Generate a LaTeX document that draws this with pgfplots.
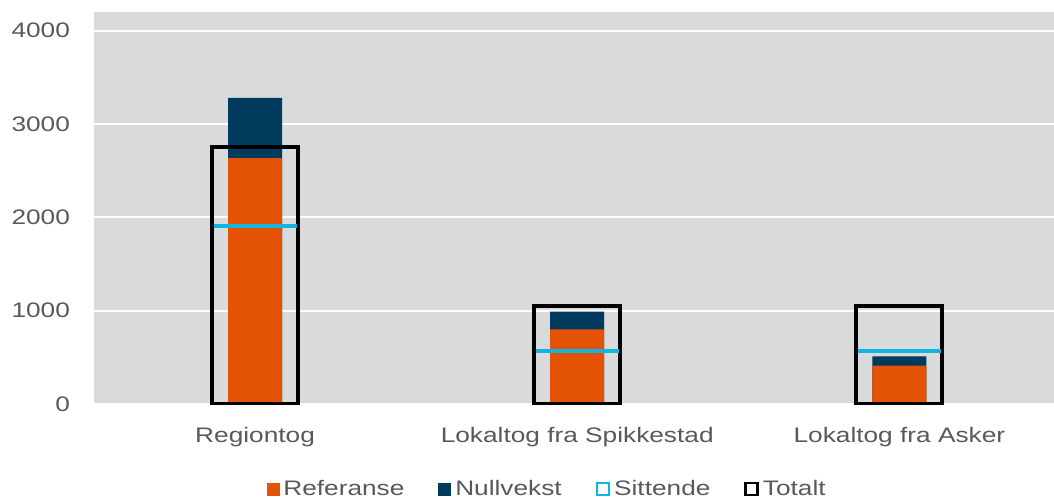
\documentclass[border=0pt]{standalone}
\usepackage{pgfplots}
\pgfplotsset{compat=1.18}
\usepackage{fontspec}
\setmainfont{Liberation Sans}[FakeStretch=1.25]
\definecolor{cOrange}{HTML}{E35205}
\definecolor{cNavy}{HTML}{003A5C}
\definecolor{cCyan}{HTML}{12B5DF}
\definecolor{cBg}{HTML}{D9DADC}
\definecolor{cText}{HTML}{595959}
\begin{document}
\begin{tikzpicture}
\useasboundingbox (-47pt,-47.5pt) rectangle (480pt,202pt);
\begin{axis}[
  at={(0,0)}, anchor=south west,
  scale only axis, width=480pt, height=196pt,
  xmin=-0.5, xmax=2.48, ymin=0, ymax=4200,
  axis background/.style={fill=cBg},
  axis line style={draw=none},
  xtick={0,1,2},
  xticklabels={Regiontog, Lokaltog fra Spikkestad, Lokaltog fra Asker},
  ytick={0,1000,2000,3000,4000},
  ymajorgrids, grid style={white, line width=1pt},
  major tick length=0pt,
  tick label style={font=\fontsize{10.5}{12}\selectfont, text=cText},
  /pgf/number format/assume math mode=true,
  /pgf/number format/1000 sep={},
  yticklabel style={xshift=-8.5pt},
  xticklabel style={yshift=-8pt},
  legend style={at={(0.473,-0.217)}, anchor=center, draw=none, fill=none,
    legend columns=4, font=\fontsize{10.5}{12}\selectfont, text=cText,
    /tikz/every even column/.append style={column sep=15pt}},
]
\addlegendimage{legend image code/.code={\fill[cOrange] (0pt,-3pt) rectangle (6pt,3pt);}}
\addlegendentry{Referanse}
\addlegendimage{legend image code/.code={\fill[cNavy] (0pt,-3pt) rectangle (6pt,3pt);}}
\addlegendentry{Nullvekst}
\addlegendimage{legend image code/.code={\draw[cCyan, line width=1.2pt] (0.4pt,-3pt) rectangle (6.4pt,3pt);}}
\addlegendentry{Sittende}
\addlegendimage{legend image code/.code={\draw[black, line width=1.2pt] (0.4pt,-3pt) rectangle (6.4pt,3pt);}}
\addlegendentry{Totalt}

\addplot[ybar, bar width=27pt, bar shift=0pt, fill=cNavy, draw=none, forget plot]
  coordinates {(0,3280) (1,990) (2,510)};
\addplot[ybar, bar width=27pt, bar shift=0pt, fill=cOrange, draw=none, forget plot]
  coordinates {(0,2635) (1,800) (2,410)};
\addplot[only marks, mark=-, mark size=20.75pt, mark options={draw=cCyan, line width=2pt}, forget plot]
  coordinates {(0,1910) (1,570) (2,570)};
\addplot[ybar, bar width=43pt, bar shift=0pt, fill=none, draw=black, line width=2pt, forget plot]
  coordinates {(0,2750) (1,1055) (2,1055)};
\end{axis}
\end{tikzpicture}
\end{document}
